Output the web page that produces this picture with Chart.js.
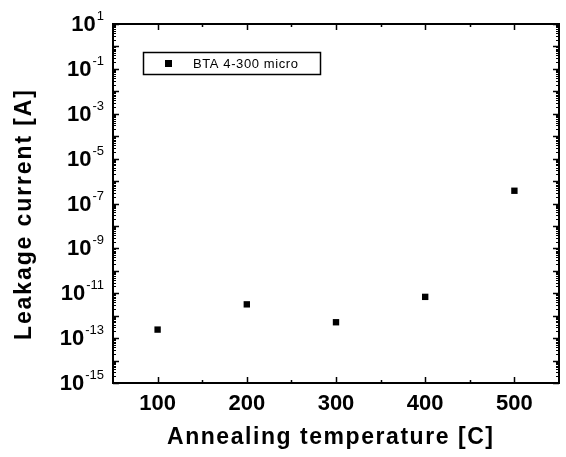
<!DOCTYPE html>
<html>
<head>
<meta charset="utf-8">
<script src="https://cdn.jsdelivr.net/npm/chart.js@4"></script>
<style>
  html, body { margin: 0; padding: 0; background: #fff; }
  canvas { display: block; }
</style>
</head>
<body>
<canvas id="leakChart" width="566" height="457"></canvas>
<script>
// Data
const temperatures = [100, 200, 300, 400, 500];
const leakage = [2.4e-13, 3.2e-12, 5.1e-13, 6.9e-12, 3.7e-7];
const seriesName = 'BTA 4-300 micro';

// Axis ticks
const xTickLabels = [100, 200, 300, 400, 500];
const xMinorTicks = [150, 250, 350, 450];
const yLabelExps = [1, -1, -3, -5, -7, -9, -11, -13, -15];

const FONT = '"Liberation Sans", Arial, sans-serif';

// Draws the box, inward ticks, labels with superscripts, titles and legend
const framePlugin = {
  id: 'frame',
  afterDraw(chart) {
    const ctx = chart.ctx;
    const area = chart.chartArea;
    const xs = chart.scales.x;
    const ys = chart.scales.y;
    ctx.save();
    ctx.strokeStyle = '#000';
    ctx.fillStyle = '#000';

    // frame
    ctx.lineWidth = 2;
    ctx.strokeRect(area.left, area.top, area.right - area.left, area.bottom - area.top);

    // x ticks, top and bottom, inward
    ctx.lineWidth = 1.5;
    ctx.beginPath();
    xTickLabels.forEach(v => {
      const px = Math.round(xs.getPixelForValue(v)) + 0.5;
      ctx.moveTo(px, area.bottom); ctx.lineTo(px, area.bottom - 6);
      ctx.moveTo(px, area.top); ctx.lineTo(px, area.top + 6);
    });
    xMinorTicks.forEach(v => {
      const px = Math.round(xs.getPixelForValue(v)) + 0.5;
      ctx.moveTo(px, area.bottom); ctx.lineTo(px, area.bottom - 3);
      ctx.moveTo(px, area.top); ctx.lineTo(px, area.top + 3);
    });
    ctx.stroke();

    // y ticks, left and right, inward
    ctx.beginPath();
    ys.ticks.forEach(t => {
      const py = Math.round(ys.getPixelForValue(t.value)) + 0.5;
      ctx.moveTo(area.left, py); ctx.lineTo(area.left + 6, py);
      ctx.moveTo(area.right, py); ctx.lineTo(area.right - 6, py);
    });
    ctx.stroke();
    ctx.lineWidth = 1;
    ctx.beginPath();
    ys.ticks.forEach(t => {
      if (t.value >= ys.max) return;
      for (let m = 2; m <= 9; m++) {
        const py = Math.round(ys.getPixelForValue(t.value * m)) + 0.5;
        ctx.moveTo(area.left, py); ctx.lineTo(area.left + 3, py);
        ctx.moveTo(area.right, py); ctx.lineTo(area.right - 3, py);
      }
    });
    ctx.stroke();

    // x tick labels
    ctx.font = 'bold 22px ' + FONT;
    ctx.textAlign = 'center';
    ctx.textBaseline = 'middle';
    xTickLabels.forEach(v => {
      ctx.fillText(String(v), xs.getPixelForValue(v), 404);
    });

    // y tick labels as 10 with superscript exponent
    yLabelExps.forEach(e => {
      const py = ys.getPixelForValue(Math.pow(10, e));
      const exp = String(e);
      ctx.font = '13px ' + FONT;
      const ew = ctx.measureText(exp).width;
      ctx.font = 'bold 22px ' + FONT;
      const bw = ctx.measureText('10').width;
      const right = 104;
      ctx.textAlign = 'left';
      ctx.textBaseline = 'middle';
      ctx.fillText('10', right - ew - 1 - bw, py + 1);
      ctx.font = '13px ' + FONT;
      ctx.textBaseline = 'top';
      ctx.fillText(exp, right - ew, py - 14);
    });

    // axis titles, stretched to the widths seen in the picture
    function spacedText(text, cx, cy, targetWidth) {
      ctx.letterSpacing = '0px';
      const w = ctx.measureText(text).width;
      const sp = Math.max(0, (targetWidth - w) / (text.length - 1));
      ctx.letterSpacing = sp + 'px';
      ctx.textAlign = 'left';
      ctx.textBaseline = 'middle';
      ctx.fillText(text, cx - targetWidth / 2, cy);
      ctx.letterSpacing = '0px';
    }
    ctx.font = 'bold 23px ' + FONT;
    spacedText('Annealing temperature [C]', 330, 438, 326);

    ctx.save();
    ctx.translate(25, 215);
    ctx.rotate(-Math.PI / 2);
    ctx.font = 'bold 23px ' + FONT;
    spacedText('Leakage current [A]', 0, 0, 250);
    ctx.restore();

    // legend box
    ctx.lineWidth = 1.5;
    ctx.strokeRect(143.5, 52.5, 177, 22);
    ctx.fillRect(165, 60, 7, 7);
    ctx.font = '13px ' + FONT;
    ctx.letterSpacing = '0.6px';
    ctx.textAlign = 'left';
    ctx.textBaseline = 'middle';
    ctx.fillText(seriesName, 193, 64);
    ctx.letterSpacing = '0px';

    ctx.restore();
  }
};

new Chart(document.getElementById('leakChart'), {
  type: 'scatter',
  data: {
    datasets: [{
      label: seriesName,
      data: temperatures.map((t, i) => ({ x: t, y: leakage[i] })),
      pointStyle: 'rect',
      pointRadius: 4.5,
      backgroundColor: '#000',
      borderColor: '#000',
      borderWidth: 0
    }]
  },
  options: {
    responsive: false,
    animation: false,
    layout: { padding: { top: 24, right: 7, left: 0, bottom: 0 } },
    plugins: {
      legend: { display: false },
      tooltip: { enabled: false }
    },
    scales: {
      x: {
        type: 'linear',
        min: 50,
        max: 550,
        grid: { display: false },
        border: { display: false },
        ticks: { display: false },
        afterFit: s => { s.height = 74; }
      },
      y: {
        type: 'logarithmic',
        min: 1e-15,
        max: 10,
        grid: { display: false },
        border: { display: false },
        ticks: { display: false },
        afterBuildTicks: s => {
          const t = [];
          for (let e = -15; e <= 1; e++) t.push({ value: Math.pow(10, e) });
          s.ticks = t;
        },
        afterFit: s => { s.width = 113; }
      }
    }
  },
  plugins: [framePlugin]
});
</script>
</body>
</html>
